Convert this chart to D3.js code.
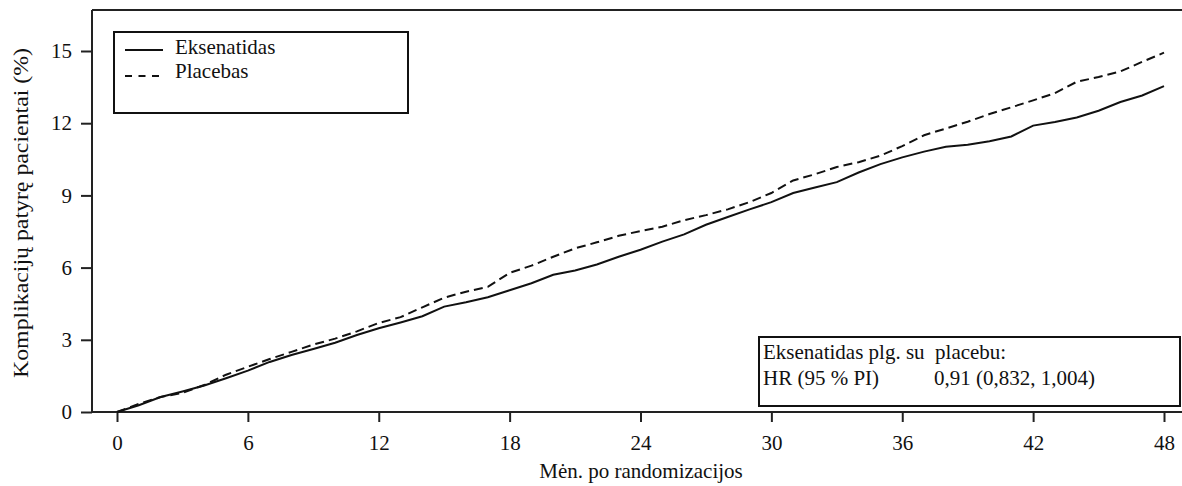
<!DOCTYPE html>
<html><head><meta charset="utf-8">
<script src="https://cdn.jsdelivr.net/npm/d3@7"></script>
<style>body{margin:0;background:#fff}svg{display:block}text{font-family:"Liberation Serif","Times New Roman",serif;fill:#111;white-space:pre}</style>
</head><body><svg id="c" width="1182" height="486"></svg>
<script>
const months = d3.range(0, 49);
const eksenatidas = [0,0.28,0.62,0.85,1.10,1.40,1.72,2.08,2.37,2.62,2.88,3.20,3.48,3.72,3.98,4.38,4.56,4.77,5.06,5.35,5.70,5.88,6.13,6.45,6.74,7.08,7.38,7.78,8.10,8.42,8.72,9.10,9.33,9.55,9.95,10.30,10.58,10.82,11.02,11.10,11.25,11.45,11.90,12.05,12.24,12.52,12.88,13.15,13.54];
const placebas = [0,0.34,0.62,0.80,1.12,1.55,1.88,2.20,2.50,2.80,3.05,3.35,3.70,3.94,4.35,4.75,5.00,5.20,5.78,6.08,6.45,6.80,7.05,7.32,7.52,7.70,7.97,8.18,8.42,8.72,9.10,9.62,9.88,10.18,10.38,10.65,11.05,11.50,11.78,12.06,12.38,12.66,12.95,13.25,13.72,13.92,14.15,14.55,14.93];
const xTicks = [0,6,12,18,24,30,36,42,48];
const yTicks = [0,3,6,9,12,15];
const seriesNames = ["Eksenatidas","Placebas"];
const xLabel = "Mėn. po randomizacijos";
const yLabel = "Komplikacijų patyrę pacientai (%)";
const hrTitle = "Eksenatidas plg. su  placebu:";
const hrLabel = "HR (95 % PI)";
const hrValue = "0,91 (0,832, 1,004)";

(function(){
const svg = d3.select("#c");
const x = d3.scaleLinear().domain([0,48]).range([117,1164]);
const y = d3.scaleLinear().domain([0,15]).range([412,51]);
const L = 92, T = 10, R = 1182, B = 412;
const FS = "21px";

svg.append("line").attr("x1",L).attr("x2",R).attr("y1",T).attr("y2",T).attr("stroke","#222").attr("stroke-width",2);
svg.append("line").attr("x1",L).attr("x2",L).attr("y1",T).attr("y2",B).attr("stroke","#222").attr("stroke-width",2);
svg.append("line").attr("x1",L).attr("x2",R).attr("y1",B).attr("y2",B).attr("stroke","#222").attr("stroke-width",2);

const xa = svg.append("g").attr("transform",`translate(0,${B})`)
  .call(d3.axisBottom(x).tickValues(xTicks).tickSize(10).tickPadding(13));
const ya = svg.append("g").attr("transform",`translate(${L},0)`)
  .call(d3.axisLeft(y).tickValues(yTicks).tickSize(11).tickPadding(9));
[xa,ya].forEach(a=>{a.select(".domain").remove();a.selectAll("line").attr("stroke","#222").attr("stroke-width",2);
  a.selectAll("text").style("font-family","'Liberation Serif',serif").style("font-size",FS).attr("fill","#222");});

const line = d3.line().x((d,i)=>x(months[i])).y(d=>y(d));
svg.append("path").datum(eksenatidas).attr("d",line).attr("fill","none").attr("stroke","#111").attr("stroke-width",2);
svg.append("path").datum(placebas).attr("d",line).attr("fill","none").attr("stroke","#111").attr("stroke-width",2).attr("stroke-dasharray","9,5");

svg.append("rect").attr("x",114).attr("y",32).attr("width",294).attr("height",81).attr("fill","#fff").attr("stroke","#111").attr("stroke-width",2);
const leg = [[seriesNames[0],null,50,54],[seriesNames[1],"7,6.5",76,78]];
leg.forEach(([n,dash,ly,ty])=>{
  svg.append("line").attr("x1",125).attr("x2",163).attr("y1",ly).attr("y2",ly).attr("stroke","#111").attr("stroke-width",2).attr("stroke-dasharray",dash);
  svg.append("text").attr("x",175).attr("y",ty).style("font-size",FS).text(n);
});

svg.append("rect").attr("x",759).attr("y",337).attr("width",421).attr("height",69).attr("fill","#fff").attr("stroke","#111").attr("stroke-width",2);
svg.append("text").attr("x",763).attr("y",359).style("font-size",FS).text(hrTitle);
svg.append("text").attr("x",763).attr("y",385).style("font-size",FS).text(hrLabel);
svg.append("text").attr("x",934).attr("y",385).style("font-size",FS).text(hrValue);

svg.append("text").attr("x",641).attr("y",478).attr("text-anchor","middle").style("font-size",FS).text(xLabel);
svg.append("text").attr("transform","translate(28,213) rotate(-90)").attr("text-anchor","middle")
  .attr("textLength",330).attr("lengthAdjust","spacingAndGlyphs").style("font-size",FS).text(yLabel);
})();
</script></body></html>
